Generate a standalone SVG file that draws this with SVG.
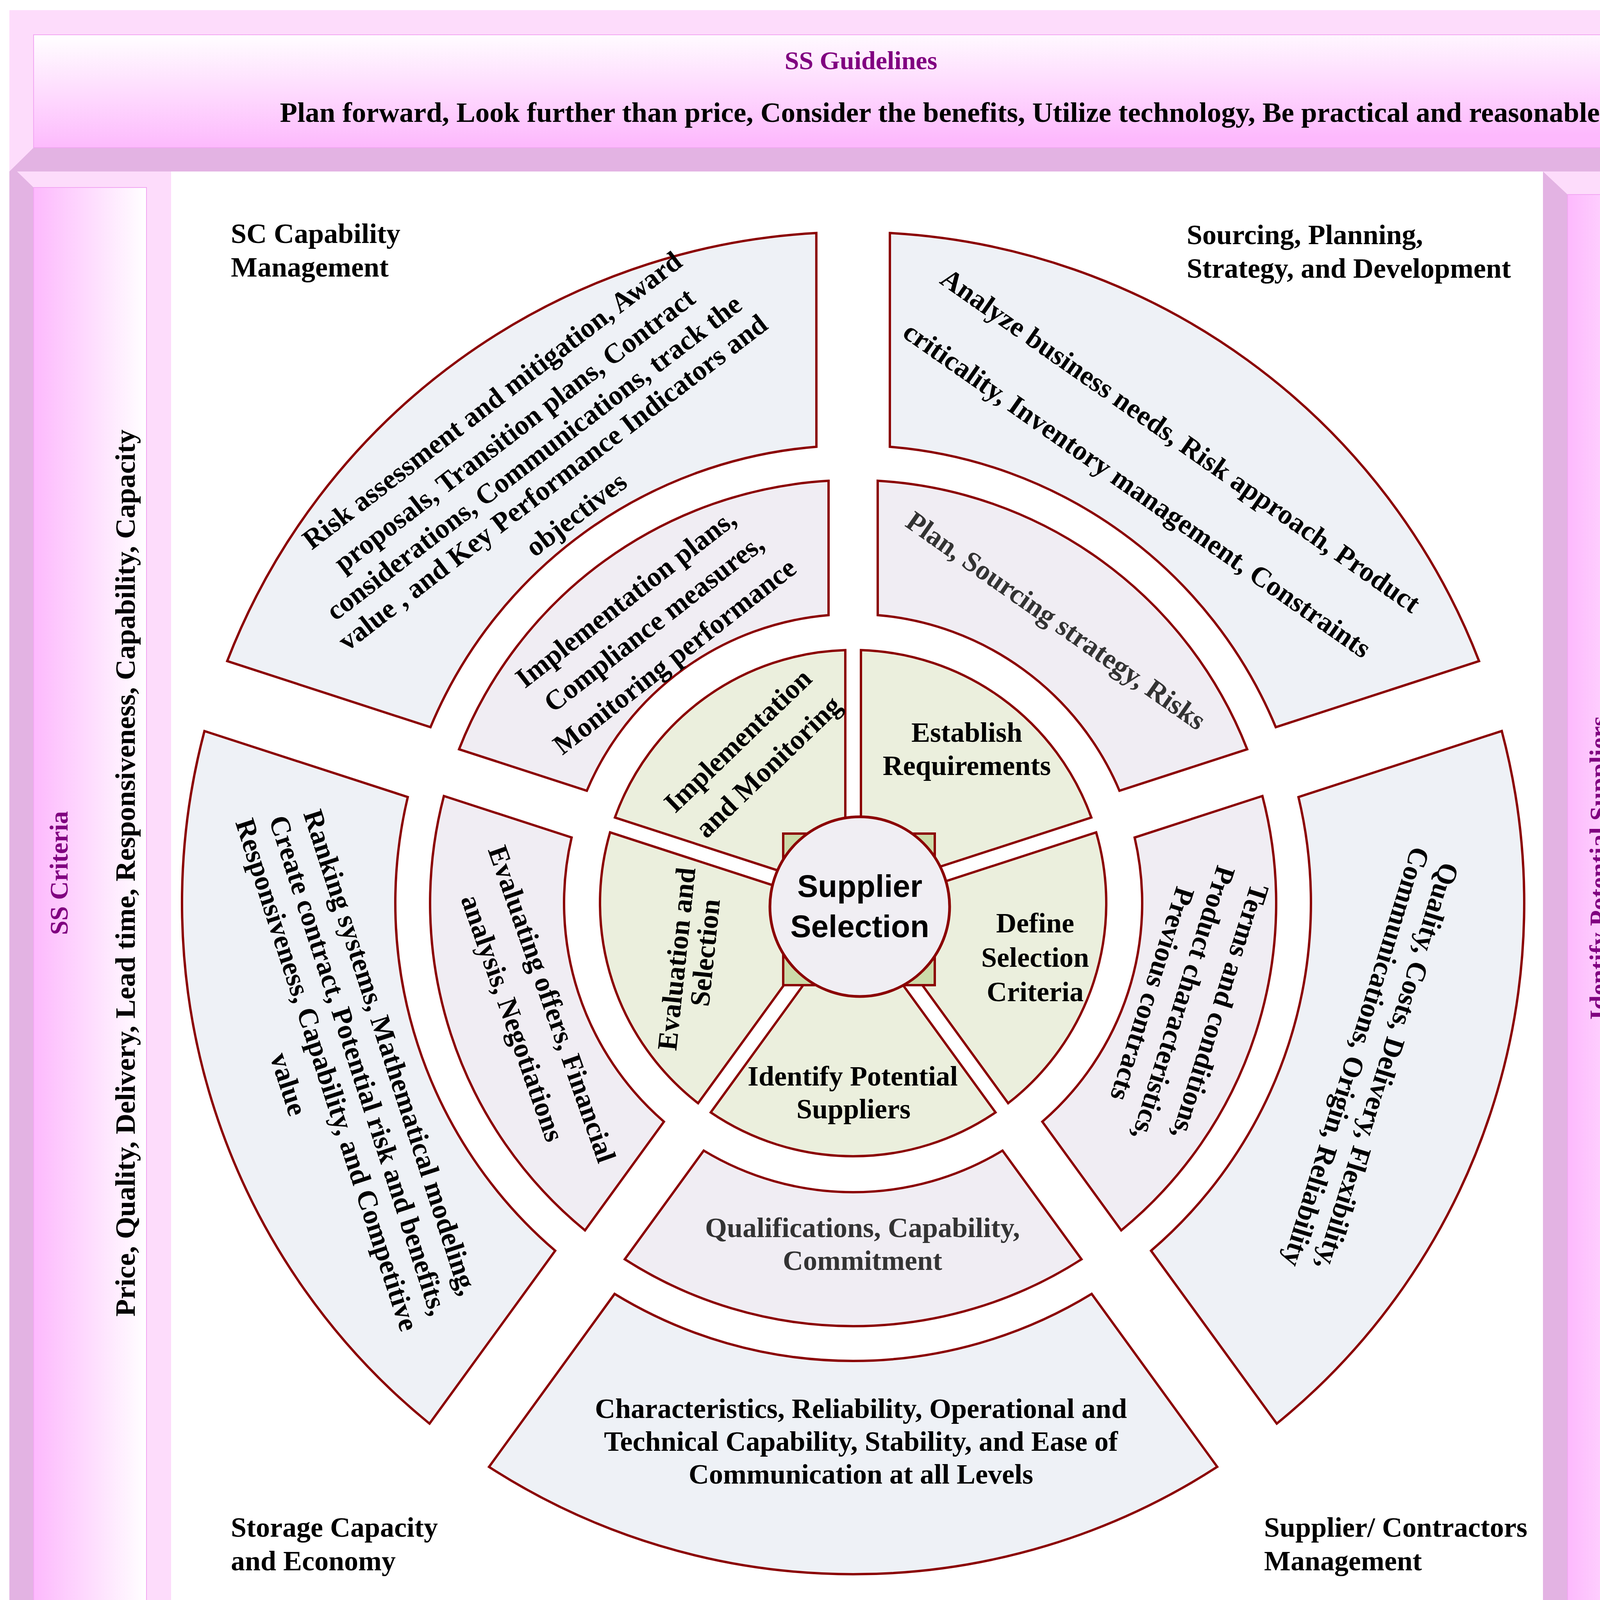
<svg xmlns="http://www.w3.org/2000/svg" xmlns:xlink="http://www.w3.org/1999/xlink" width="4396" height="4603" viewBox="0 0 4396 4603">
<defs>
<linearGradient id="gTop" x1="0" y1="0" x2="0.15" y2="1"><stop offset="0" stop-color="#FFFFFF"/><stop offset="1" stop-color="#FDB9FD"/></linearGradient>
<linearGradient id="gSide" x1="0" y1="0" x2="1" y2="0"><stop offset="0" stop-color="#FDB9FD"/><stop offset="1" stop-color="#FFFFFF"/></linearGradient>
<linearGradient id="gBot" x1="0" y1="0" x2="1" y2="0.2"><stop offset="0" stop-color="#FEEAFE"/><stop offset="0.35" stop-color="#FDB9FD"/><stop offset="1" stop-color="#FDB9FD"/></linearGradient>
<path id="segG" d="M20,-27.5 L20,-647.7 A648,648 0 0 1 609.8,-219.2 Z"/>
<path id="segM" d="M62.9,-1081.2 A1083,1083 0 0 1 1008.8,-393.9 L681.8,-287.7 A740,740 0 0 0 63,-737.3 Z"/>
<path id="segO" d="M94.1,-1715.4 A1718,1718 0 0 1 1602.4,-619.7 L1082,-450.4 A1172,1172 0 0 0 94,-1168.2 Z"/>
</defs>
<style>
.lt{fill:#FDDCFB}
.dk{fill:#E3B3E3}
.pn{stroke:#F2A6F2;stroke-width:2}
.g{fill:#EBEFDD;stroke:#8B0000;stroke-width:6}
.m{fill:#F0EDF3;stroke:#8B0000;stroke-width:6}
.o{fill:#EEF1F6;stroke:#8B0000;stroke-width:6}
text{font-family:"Liberation Serif","Times New Roman",serif;font-weight:bold;font-size:72px;fill:#000}
.c{text-anchor:middle}
.t{fill:#800080;font-size:66px}
.gy{fill:#333333}
.ss{font-family:"Liberation Sans",Arial,sans-serif;font-size:80px}
</style>
<rect width="4396" height="4603" fill="#FFFFFF"/>

<g id="banner-left">
<rect class="lt" x="24" y="420" width="414" height="3741"/>
<polygon class="dk" points="24,420 86,480 86,4099 24,4161"/>
<polygon class="dk" points="24,4161 86,4099 375,4099 438,4161"/>
<rect class="pn" x="86" y="480" width="289" height="3619" fill="url(#gSide)"/>
<text class="t c" transform="translate(173,2235) rotate(-90)">SS Criteria</text>
<text class="c" transform="translate(345,2235) rotate(-90)" textLength="2271" lengthAdjust="spacingAndGlyphs">Price, Quality, Delivery, Lead time, Responsiveness, Capability, Capacity</text>
</g>

<g id="banner-right">
<rect class="lt" x="3950" y="439" width="414" height="3722"/>
<polygon class="dk" points="3950,439 4013,498 4013,4099 3950,4161"/>
<polygon class="dk" points="3950,4161 4013,4099 4302,4099 4364,4161"/>
<rect class="pn" x="4013" y="498" width="289" height="3601" fill="url(#gSide)"/>
<text class="t c" transform="translate(4115,2222) rotate(-90)">Identify Potential Suppliers</text>
<text class="c" transform="translate(4290,2225) rotate(-90)" textLength="2573" lengthAdjust="spacingAndGlyphs">Existing, networks, Online search, Trade shows/exhibitions, Referrals, Networking</text>
</g>

<g id="banner-top">
<rect class="lt" x="24" y="26" width="4340" height="413"/>
<polygon class="dk" points="24,439 86,378 4302,378 4364,439"/>
<polygon class="dk" points="4302,89 4364,26 4364,439 4302,378"/>
<rect class="pn" x="86" y="89" width="4216" height="289" fill="url(#gTop)"/>
<text class="t c" x="2204" y="177">SS Guidelines</text>
<text class="c" x="2406" y="312" textLength="3379" lengthAdjust="spacingAndGlyphs">Plan forward, Look further than price, Consider the benefits, Utilize technology, Be practical and reasonable</text>
</g>

<g id="banner-bottom">
<rect class="lt" x="24" y="4161" width="4340" height="414"/>
<polygon class="dk" points="4302,4222 4364,4161 4364,4575 4302,4512"/>
<polygon class="dk" points="24,4575 86,4512 4302,4512 4364,4575"/>
<rect class="pn" x="86" y="4222" width="4216" height="290" fill="url(#gBot)"/>
<text class="t c" x="2269" y="4235">SS Steps</text>
<text class="c" x="2205" y="4362" textLength="4104" lengthAdjust="spacingAndGlyphs">Analyze the needs, collect data, define criticality of products, build strategy, define SS criteria, list potential suppliers, review RFPs,</text>
<text class="c" x="2165" y="4436" textLength="3811" lengthAdjust="spacingAndGlyphs">launch tender, analyze suppliers capabilities evaluate the offers, perform financial analysis, contract awarding, contract</text>
<text class="c" x="2205" y="4555" textLength="1785" lengthAdjust="spacingAndGlyphs">implementation, setup the invoices, monitor performance</text>
</g>

<g id="corner-labels">
<text x="591" y="622">SC Capability</text>
<text x="591" y="708">Management</text>
<text x="3038" y="625">Sourcing, Planning,</text>
<text x="3038" y="711">Strategy, and Development</text>
<text x="591" y="3934">Storage Capacity</text>
<text x="591" y="4020">and Economy</text>
<text x="3236" y="3934">Supplier/ Contractors</text>
<text x="3236" y="4020">Management</text>
</g>

<g id="outer-sourcing"><use href="#segO" class="o" transform="translate(2184,2312)"/>
<text class="c" transform="translate(3023,1127) rotate(35)" y="25">Analyze business needs, Risk approach, Product</text>
<text class="c" transform="translate(2959,1186) rotate(35)" y="107">criticality, Inventory management, Constraints</text></g>
<g id="outer-supplier"><use href="#segO" class="o" transform="translate(2184,2312) rotate(72)"/>
<text class="c" transform="translate(3553,2730) rotate(107.2)" y="25">Quality, Costs, Delivery, Flexibility,</text>
<text class="c" transform="translate(3473,2706) rotate(107.2)" y="25">Communications, Origin, Reliability</text></g>
<g id="outer-bottom"><use href="#segO" class="o" transform="translate(2184,2312) rotate(144)"/>
<text class="c" x="2204" y="3630">Characteristics, Reliability, Operational and</text>
<text class="c" x="2204" y="3714">Technical Capability, Stability, and Ease of</text>
<text class="c" x="2204" y="3798">Communication at all Levels</text></g>
<g id="outer-storage"><use href="#segO" class="o" transform="translate(2184,2312) rotate(216)"/>
<text class="c" transform="translate(1001,2694) rotate(72)" y="25">Ranking systems, Mathematical modeling,</text>
<text class="c" transform="translate(919,2727) rotate(72)" y="25">Create contract, Potential risk and benefits,</text>
<text class="c" transform="translate(838,2751) rotate(72)" y="25">Responsiveness, Capability, and Competitive</text>
<text class="c" transform="translate(737,2776) rotate(72)" y="22">value</text></g>
<g id="outer-sc"><use href="#segO" class="o" transform="translate(2184,2312) rotate(288)"/>
<text class="c" transform="translate(1259,1024) rotate(-37.5)" y="25">Risk assessment and mitigation, Award</text>
<text class="c" transform="translate(1316,1100) rotate(-37.5)" y="25">proposals, Transition plans, Contract</text>
<text class="c" transform="translate(1366,1170) rotate(-37.5)" y="25">considerations, Communications, track the</text>
<text class="c" transform="translate(1414,1234) rotate(-37.5)" y="25">value , and Key Performance Indicators and</text>
<text class="c" transform="translate(1476,1318) rotate(-37.5)" y="22">objectives</text></g>

<g id="mid-plan"><use href="#segM" class="m" transform="translate(2184,2312)"/>
<text class="c gy" transform="translate(2704,1588) rotate(35)" y="25">Plan, Sourcing strategy, Risks</text></g>
<g id="mid-terms"><use href="#segM" class="m" transform="translate(2184,2312) rotate(72)"/>
<text class="c" transform="translate(3125,2590) rotate(107.5)" y="25">Terms and conditions,</text>
<text class="c" transform="translate(3031,2568) rotate(107.5)" y="25">Product characteristics,</text>
<text class="c" transform="translate(2951,2545) rotate(107.5)" y="25">Previous contracts</text></g>
<g id="mid-qual"><use href="#segM" class="m" transform="translate(2184,2312) rotate(144)"/>
<text class="c gy" x="2208" y="3167">Qualifications, Capability,</text>
<text class="c gy" x="2208" y="3251">Commitment</text></g>
<g id="mid-eval"><use href="#segM" class="m" transform="translate(2184,2312) rotate(216)"/>
<text class="c" transform="translate(1414,2570) rotate(70.6)" y="25">Evaluating offers, Financial</text>
<text class="c" transform="translate(1313,2606) rotate(70.6)" y="25">analysis,  Negotiations</text></g>
<g id="mid-impl"><use href="#segM" class="m" transform="translate(2184,2312) rotate(288)"/>
<text class="c" transform="translate(1601,1531) rotate(-38)" y="25">Implementation plans,</text>
<text class="c" transform="translate(1673,1594) rotate(-38)" y="25">Compliance measures,</text>
<text class="c" transform="translate(1726,1679) rotate(-38)" y="25">Monitoring performance</text></g>

<g id="step-establish"><use href="#segG" class="g" transform="translate(2184,2312)"/>
<text class="c" x="2475" y="1899">Establish</text>
<text class="c" x="2475" y="1984">Requirements</text></g>
<g id="step-define"><use href="#segG" class="g" transform="translate(2184,2312) rotate(72)"/>
<text class="c" x="2650" y="2387">Define</text>
<text class="c" x="2650" y="2475">Selection</text>
<text class="c" x="2650" y="2563">Criteria</text></g>
<g id="step-identify"><use href="#segG" class="g" transform="translate(2184,2312) rotate(144)"/>
<text class="c" x="2183" y="2779">Identify Potential</text>
<text class="c" x="2185" y="2863">Suppliers</text></g>
<g id="step-evaluation"><use href="#segG" class="g" transform="translate(2184,2312) rotate(216)"/>
<text class="c" transform="translate(1734,2455) rotate(-84)" y="22">Evaluation and</text>
<text class="c" transform="translate(1807,2439) rotate(-84)" y="22">Selection</text></g>
<g id="step-implementation"><use href="#segG" class="g" transform="translate(2184,2312) rotate(288)"/>
<text class="c" transform="translate(1888,1895) rotate(-44)" y="25">Implementation</text>
<text class="c" transform="translate(1966,1962) rotate(-44)" y="25">and Monitoring</text></g>

<g id="center">
<rect x="2005" y="2134" width="388" height="388" fill="#CCDBA9" stroke="#8B0000" stroke-width="6"/>
<circle cx="2201" cy="2321" r="230" fill="#F0EEF3" stroke="#8B0000" stroke-width="7"/>
<text class="c ss" x="2201" y="2296">Supplier</text>
<text class="c ss" x="2201" y="2399">Selection</text>
</g>
<g id="connectors"/>
</svg>
